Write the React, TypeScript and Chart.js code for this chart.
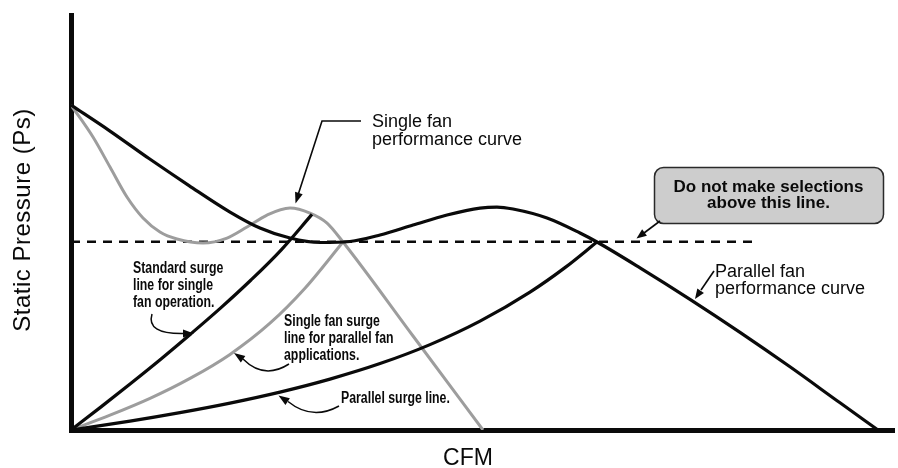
import React, { useEffect, useRef } from "react";
import { Chart, registerables } from "chart.js";

Chart.register(...registerables);

// ---- axis domain (arbitrary CFM / Ps units) ----
const X_MIN = 0;
const X_MAX = 100;
const Y_MIN = 0;
const Y_MAX = 99.3;

const X_TITLE = "CFM";
const Y_TITLE = "Static Pressure (Ps)";

// ---- series ----
const parallelFanX = [0, 4.74, 9.48, 14.34, 19.32, 22.96, 26.61, 30.26, 33.9, 37.55, 41.56, 45.69, 49.7, 51.76, 53.71, 57.84, 61.85, 63.91, 69.14, 75.21, 81.29, 87.36, 93.44, 98.06];
const parallelFanY = [77.75, 71.53, 64.95, 58.49, 52.15, 48.33, 45.93, 44.86, 45.1, 46.65, 49.04, 51.44, 53.11, 53.35, 52.87, 50.72, 47.13, 44.98, 38.8, 31.27, 23.37, 15.12, 6.51, 0];

const singleFanX = [0, 2.67, 4.74, 6.8, 8.75, 10.81, 12.88, 16.04, 18.96, 21.39, 23.82, 26.61, 29.04, 31.11, 33.05, 41.56, 50.06];
const singleFanY = [77.75, 70.1, 62.92, 55.74, 50.72, 47.37, 45.69, 44.74, 45.93, 48.56, 51.44, 53.11, 51.91, 49.52, 44.98, 22.49, 0];

const standardSurgeX = [0, 3.65, 7.29, 10.94, 14.58, 18.23, 21.87, 25.52, 29.28];
const standardSurgeY = [0, 5.53, 11.2, 17.01, 23.04, 29.28, 35.89, 43.06, 51.6];

const singleSurgeParallelX = [0, 4.74, 9.6, 14.46, 19.32, 24.18, 28.43, 33.05];
const singleSurgeParallelY = [0, 3.54, 7.56, 12.34, 18.09, 25.55, 33.92, 44.98];

const parallelSurgeX = [0, 7.17, 13.24, 19.32, 25.39, 31.47, 37.55, 43.62, 49.7, 55.77, 60.02, 63.91];
const parallelSurgeY = [0, 2.13, 4.16, 6.44, 9.07, 12.18, 15.89, 20.43, 26.05, 32.99, 38.85, 44.98];

const limitX = [0, 83.1];
const limitY = [45.05, 45.05];

// ---- annotation texts ----
const singleFanLabel = ["Single fan", "performance curve"];
const parallelFanLabel = ["Parallel fan", "performance curve"];
const boxLabel = ["Do not make selections", "above this line."];
const standardSurgeLabel = ["Standard surge", "line for single", "fan operation."];
const singleSurgeLabel = ["Single fan surge", "line for parallel fan", "applications."];
const parallelSurgeLabel = ["Parallel surge line."];

const BLACK = "#0a0a0a";
const GRAY = "#9d9d9d";
const FONT = '"Liberation Sans", Arial, Helvetica, sans-serif';

const pts = (xs: number[], ys: number[]) => xs.map((x, i) => ({ x, y: ys[i] }));

function arrowHead(ctx: CanvasRenderingContext2D, tipX: number, tipY: number, fromX: number, fromY: number, len = 10, half = 3.8) {
  const a = Math.atan2(tipY - fromY, tipX - fromX);
  const bx = tipX - len * Math.cos(a);
  const by = tipY - len * Math.sin(a);
  ctx.beginPath();
  ctx.moveTo(tipX, tipY);
  ctx.lineTo(bx + half * Math.sin(a), by - half * Math.cos(a));
  ctx.lineTo(bx - half * Math.sin(a), by + half * Math.cos(a));
  ctx.closePath();
  ctx.fill();
}

function condensedText(ctx: CanvasRenderingContext2D, lines: string[], x: number, y0: number, lh: number, sx: number) {
  lines.forEach((t, i) => {
    ctx.save();
    ctx.translate(x, y0 + i * lh);
    ctx.scale(sx, 1);
    ctx.fillText(t, 0, 0);
    ctx.restore();
  });
}

const annotationPlugin = {
  id: "fanAnnotations",
  afterDraw(chart: any) {
    const ctx: CanvasRenderingContext2D = chart.ctx;
    ctx.save();
    ctx.fillStyle = BLACK;
    ctx.strokeStyle = BLACK;
    ctx.textBaseline = "alphabetic";

    // axis titles
    ctx.textAlign = "center";
    ctx.font = `23px ${FONT}`;
    ctx.fillText(X_TITLE, 468, 465);
    ctx.save();
    ctx.translate(30, 220);
    ctx.rotate(-Math.PI / 2);
    ctx.font = `24px ${FONT}`;
    (ctx as any).letterSpacing = "0.5px";
    ctx.fillText(Y_TITLE, 0, 0);
    ctx.restore();

    // regular labels
    ctx.textAlign = "left";
    ctx.font = `18px ${FONT}`;
    singleFanLabel.forEach((t, i) => ctx.fillText(t, 372, 127 + i * 18));
    parallelFanLabel.forEach((t, i) => ctx.fillText(t, 715, 276.5 + i * 17.5));

    // box
    ctx.beginPath();
    (ctx as any).roundRect(654.5, 167.5, 229, 56, 9);
    ctx.fillStyle = "#cdcdcd";
    ctx.fill();
    ctx.lineWidth = 1.5;
    ctx.strokeStyle = "#2a2a2a";
    ctx.stroke();
    ctx.fillStyle = BLACK;
    ctx.strokeStyle = BLACK;
    ctx.textAlign = "center";
    ctx.font = `bold 17px ${FONT}`;
    boxLabel.forEach((t, i) => ctx.fillText(t, 768.5, 191.5 + i * 16.7));

    // condensed bold labels
    ctx.textAlign = "left";
    ctx.font = `bold 16px ${FONT}`;
    condensedText(ctx, standardSurgeLabel, 133, 272.5, 17, 0.77);
    condensedText(ctx, singleSurgeLabel, 284, 325.5, 17, 0.77);
    condensedText(ctx, parallelSurgeLabel, 341, 403, 17, 0.77);

    // straight arrows
    ctx.lineWidth = 1.6;
    ctx.lineCap = "butt";
    ctx.lineJoin = "miter";
    // single fan performance
    ctx.beginPath();
    ctx.moveTo(361, 121);
    ctx.lineTo(322, 121);
    ctx.lineTo(298.5, 193.5);
    ctx.stroke();
    arrowHead(ctx, 295.5, 203.5, 322, 121, 11, 4);
    // box arrow
    ctx.beginPath();
    ctx.moveTo(660, 221);
    ctx.lineTo(644, 233);
    ctx.stroke();
    arrowHead(ctx, 636.5, 238.5, 660, 221, 10, 4);
    // parallel fan arrow
    ctx.beginPath();
    ctx.moveTo(714, 271);
    ctx.lineTo(701, 290);
    ctx.stroke();
    arrowHead(ctx, 695, 299, 714, 271, 10, 4);

    // curved arrows
    ctx.lineWidth = 1.5;
    ctx.beginPath();
    ctx.moveTo(152, 314);
    ctx.quadraticCurveTo(146, 334, 183, 333.5);
    ctx.stroke();
    arrowHead(ctx, 194, 333.5, 183, 333.5, 11, 4);

    ctx.beginPath();
    ctx.moveTo(289, 364);
    ctx.quadraticCurveTo(264, 380, 243, 359);
    ctx.stroke();
    arrowHead(ctx, 234, 353, 245, 360.5, 11, 4);

    ctx.beginPath();
    ctx.moveTo(339, 406);
    ctx.quadraticCurveTo(312, 421, 288, 401.5);
    ctx.stroke();
    arrowHead(ctx, 278.5, 395.5, 289, 402.5, 11, 4);

    ctx.restore();
  },
};

export default function App() {
  const ref = useRef<HTMLCanvasElement>(null);
  useEffect(() => {
    if (!ref.current) return;
    const line = (data: any, color: string, width: number, order: number, extra: any = {}) => ({
      data,
      borderColor: color,
      backgroundColor: color,
      borderWidth: width,
      showLine: true,
      pointRadius: 0,
      pointHoverRadius: 0,
      fill: false,
      tension: 0.4,
      cubicInterpolationMode: "monotone",
      order,
      ...extra,
    });
    const chart = new Chart(ref.current, {
      type: "scatter",
      data: {
        datasets: [
          line(pts(limitX, limitY), BLACK, 2.4, 10, { borderDash: [9, 7], tension: 0, cubicInterpolationMode: "default", label: "Selection limit" }),
          line(pts(singleFanX, singleFanY), GRAY, 3, 6, { label: "Single fan performance curve" }),
          line(pts(singleSurgeParallelX, singleSurgeParallelY), GRAY, 3, 5, { label: "Single fan surge line for parallel fan applications" }),
          line(pts(parallelFanX, parallelFanY), BLACK, 3.2, 3, { label: "Parallel fan performance curve" }),
          line(pts(parallelSurgeX, parallelSurgeY), BLACK, 3.2, 2, { label: "Parallel surge line" }),
          line(pts(standardSurgeX, standardSurgeY), BLACK, 3.2, 1, { label: "Standard surge line for single fan operation" }),
        ],
      },
      options: {
        responsive: false,
        animation: false,
        devicePixelRatio: 1,
        layout: { padding: { left: 71, top: 15, right: 4, bottom: 38 } },
        plugins: { legend: { display: false }, tooltip: { enabled: false } },
        events: [],
        scales: {
          x: {
            type: "linear",
            min: X_MIN,
            max: X_MAX,
            grid: { display: false, drawTicks: false },
            ticks: { display: false },
            border: { display: true, color: BLACK, width: 5 },
            title: { display: false },
          },
          y: {
            type: "linear",
            min: Y_MIN,
            max: Y_MAX,
            grid: { display: false, drawTicks: false },
            ticks: { display: false },
            border: { display: true, color: BLACK, width: 5 },
            title: { display: false },
          },
        },
      } as any,
      plugins: [annotationPlugin as any],
    });
    return () => chart.destroy();
  }, []);
  return (
    <div style={{ position: "fixed", left: 0, top: 0, width: 898, height: 468, background: "#fff" }}>
      <canvas ref={ref} width={898} height={468} style={{ display: "block", width: 898, height: 468 }} />
    </div>
  );
}
